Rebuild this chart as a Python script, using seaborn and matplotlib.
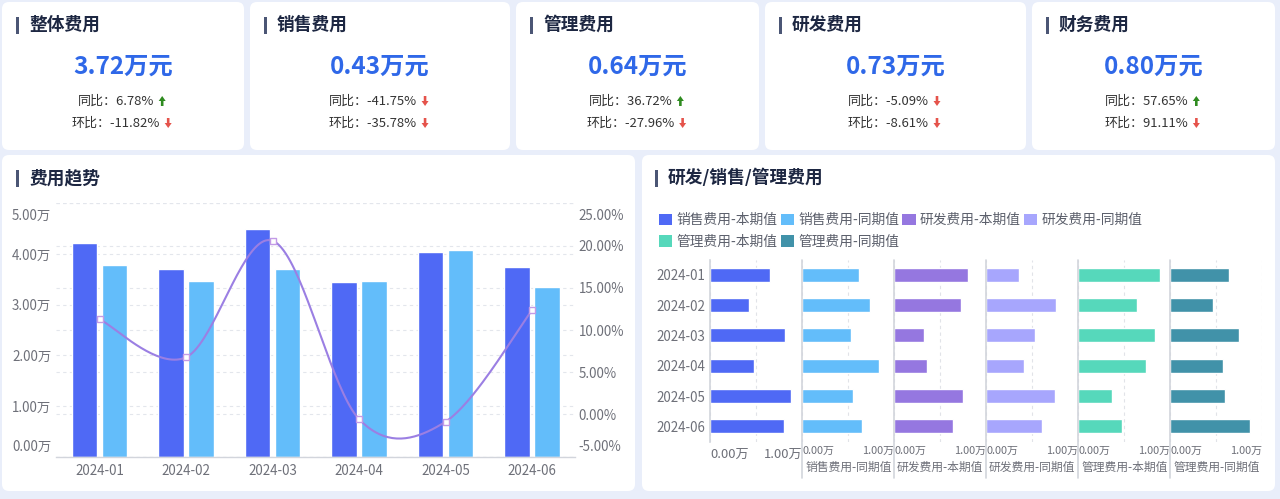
import matplotlib
matplotlib.use("Agg")
import matplotlib.pyplot as plt
import matplotlib.patches as mpatches
import matplotlib.transforms as mtransforms
from matplotlib.lines import Line2D
import seaborn as sns
import numpy as np
import pandas as pd

# ---------------- data ----------------
months = ["2024-01", "2024-02", "2024-03", "2024-04", "2024-05", "2024-06"]

# overall expense trend (万)
total_current = [4.21, 3.71, 4.49, 3.45, 4.04, 3.74]
total_last = [3.79, 3.47, 3.71, 3.47, 4.08, 3.34]
total_yoy_pct = [11.27, 6.77, 20.57, -0.54, -0.86, 12.33]
left_ticks = [0, 1, 2, 3, 4, 5]
right_ticks = [-5, 0, 5, 10, 15, 20, 25]

# KPI cards
kpi_titles = ["整体费用", "销售费用", "管理费用", "研发费用", "财务费用"]
kpi_amounts = [3.72, 0.43, 0.64, 0.73, 0.80]
kpi_yoy = [6.78, -41.75, 36.72, -5.09, 57.65]
kpi_mom = [-11.82, -35.78, -27.96, -8.61, 91.11]
kpi_yoy_up = [True, False, True, False, True]
kpi_mom_up = [False, False, False, False, False]

# small multiples (万)
panel_names = ["销售费用-本期值", "销售费用-同期值", "研发费用-本期值",
               "研发费用-同期值", "管理费用-本期值", "管理费用-同期值"]
sales_current = [0.65, 0.42, 0.81, 0.47, 0.88, 0.80]
sales_last = [0.62, 0.74, 0.53, 0.83, 0.55, 0.65]
rd_current = [0.80, 0.72, 0.32, 0.36, 0.75, 0.64]
rd_last = [0.36, 0.76, 0.53, 0.41, 0.75, 0.60]
admin_current = [0.89, 0.64, 0.83, 0.74, 0.37, 0.47]
admin_last = [0.64, 0.46, 0.75, 0.57, 0.59, 0.87]
panel_values = [sales_current, sales_last, rd_current, rd_last, admin_current, admin_last]
panel_ticks = [0, 0.5, 1.0]

# ---------------- style ----------------
C_DARK = "#4f69f5"
C_LIGHT = "#63bdfa"
panel_colors = ["#4f69f5", "#63bdfa", "#9577e0", "#a7a6fd", "#56d8bb", "#4192a9"]
C_LINE = "#9b7fe3"
C_MARK = "#c39be6"
C_BG = "#e9eefa"
C_TITLE = "#1d2742"
C_BAR = "#4b5675"
C_TICK = "#6e7079"
C_GRID = "#e3e6ec"
C_AXIS = "#d2d5dc"

sns.set_theme(style="white")
plt.rcParams["font.family"] = ["Noto Sans CJK SC", "DejaVu Sans"]
plt.rcParams["axes.unicode_minus"] = False

W, H = 1280, 499
fig = plt.figure(figsize=(W / 100, H / 100), dpi=100)
fig.patch.set_facecolor(C_BG)


def fy(y):
    return 1 - y / H


def card(x0, y0, x1, y1):
    p = mpatches.FancyBboxPatch((x0 / 100, (H - y1) / 100), (x1 - x0) / 100, (y1 - y0) / 100,
                                boxstyle="round,pad=0,rounding_size=0.07",
                                transform=fig.dpi_scale_trans, fc="white", ec="none", zorder=-5)
    fig.add_artist(p)


def title(x_bar, y_c, text, size=12.75):
    r = mpatches.Rectangle((x_bar / 100, (H - (y_c + 8.5)) / 100), 3 / 100, 17 / 100,
                           transform=fig.dpi_scale_trans, fc=C_BAR, ec="none", zorder=2)
    fig.add_artist(r)
    fig.text((x_bar + 13) / W, fy(y_c), text, fontsize=size, fontweight="bold",
             color=C_TITLE, ha="left", va="center")


def arrow(cx, cy, up, color):
    L = 10
    if up:
        y_start, dy = cy + L / 2, -L
    else:
        y_start, dy = cy - L / 2, L
    a = mpatches.FancyArrow(cx / 100, (H - y_start) / 100, 0, -dy / 100, width=2.6 / 100,
                            head_width=7 / 100, head_length=5 / 100, length_includes_head=True,
                            transform=fig.dpi_scale_trans, fc=color, ec="none", zorder=3)
    fig.add_artist(a)


# ---------------- KPI cards ----------------
top_cards = [(2, 2, 244, 150), (250, 2, 510, 150), (516, 2, 759, 150),
             (765, 2, 1026, 150), (1032, 2, 1275, 150)]
renderer = fig.canvas.get_renderer()
for i, (x0, y0, x1, y1) in enumerate(top_cards):
    card(x0, y0, x1, y1)
    title(x0 + 14, 25, kpi_titles[i])
    cx = (x0 + x1) / 2
    fig.text(cx / W, fy(67), f"{kpi_amounts[i]:.2f}万元", fontsize=17.5, fontweight="bold",
             color="#2f68e8", ha="center", va="center")
    for (lab, val, up, yy) in [("同比", kpi_yoy[i], kpi_yoy_up[i], 101),
                               ("环比", kpi_mom[i], kpi_mom_up[i], 123)]:
        t = fig.text((cx - 7) / W, fy(yy), f"{lab}：{val:.2f}%", fontsize=9.4,
                     color="#333333", ha="center", va="center")
        bb = t.get_window_extent(renderer)
        arrow(bb.x1 + 8, yy, up, "#2e8b1f" if up else "#e5534b")

# ---------------- bottom cards ----------------
card(2, 155, 635, 491)
card(642, 155, 1275, 491)
title(16, 178, "费用趋势")
title(655, 178, "研发/销售/管理费用")

# ---------------- left chart: bars + smooth yoy line ----------------
ax = fig.add_axes([56.25 / W, fy(456.7), 519 / W, 253.4 / H])
ax.set_facecolor("none")
df = pd.DataFrame({"月份": months * 2,
                   "费用": total_current + total_last,
                   "类型": ["本期值"] * len(months) + ["同期值"] * len(months)})
sns.barplot(data=df, x="月份", y="费用", hue="类型", palette=[C_DARK, C_LIGHT],
            width=0.69, gap=0.14, saturation=1, legend=False, ax=ax, zorder=2)
ax.set_xlim(-0.5, len(months) - 0.5)
ax.set_ylim(left_ticks[0], left_ticks[-1])
ax.set_yticks(left_ticks)
ax.set_yticklabels([f"{v:.2f}万" for v in left_ticks])
ax.set_xlabel("")
ax.set_ylabel("")
for s in ["top", "right", "left"]:
    ax.spines[s].set_visible(False)
ax.spines["bottom"].set_color(C_AXIS)
ax.spines["bottom"].set_linewidth(1.0)
ax.tick_params(axis="both", length=0, labelsize=9.6, labelcolor=C_TICK)
ax.tick_params(axis="x", pad=5)
ax.tick_params(axis="y", pad=3.5)
ax.grid(axis="y", color=C_GRID, ls=(0, (3, 3)), lw=0.8)
ax.grid(axis="x", visible=False)
ax.set_axisbelow(True)

ax2 = ax.twinx()
ax2.set_ylim(right_ticks[0], right_ticks[-1])
ax2.set_yticks(right_ticks)
ax2.set_yticklabels([f"{v:.2f}%" for v in right_ticks])
for s in ["top", "right", "left", "bottom"]:
    ax2.spines[s].set_visible(False)
ax2.tick_params(axis="y", length=0, labelsize=9.6, labelcolor=C_TICK, pad=2.5)
ax2.grid(False)
# right-axis gridlines drawn behind the bars
gtrans = mtransforms.blended_transform_factory(ax.transAxes, ax2.transData)
for t in right_ticks:
    ax.plot([0, 1], [t, t], transform=gtrans, color=C_GRID, ls=(0, (3, 3)), lw=0.8, zorder=0.5)

# shift extreme tick labels inward (as in reference)
for a in (ax, ax2):
    labs = a.get_yticklabels()
    labs[-1].set_transform(labs[-1].get_transform() + mtransforms.ScaledTranslation(0, -0.11, fig.dpi_scale_trans))
    labs[0].set_transform(labs[0].get_transform() + mtransforms.ScaledTranslation(0, 0.11, fig.dpi_scale_trans))


def catmull_rom(xs, ys, n=40):
    pts = np.column_stack([xs, ys]).astype(float)
    P = np.vstack([pts[0], pts, pts[-1]])
    out = []
    tt = np.linspace(0, 1, n)[:, None]
    for k in range(len(pts) - 1):
        p0, p1, p2, p3 = P[k], P[k + 1], P[k + 2], P[k + 3]
        c1 = p1 + (p2 - p0) / 6
        c2 = p2 - (p3 - p1) / 6
        seg = (1 - tt) ** 3 * p1 + 3 * (1 - tt) ** 2 * tt * c1 + 3 * (1 - tt) * tt ** 2 * c2 + tt ** 3 * p2
        out.append(seg if k == 0 else seg[1:])
    out = np.vstack(out)
    return out[:, 0], out[:, 1]


xpos = np.arange(len(months))
cxs, cys = catmull_rom(xpos, total_yoy_pct)
ax2.plot(cxs, cys, color=C_LINE, lw=1.5, zorder=3, solid_capstyle="round")
sns.scatterplot(x=xpos, y=total_yoy_pct, marker="s", s=20, color="white",
                edgecolor=C_MARK, linewidth=1.0, zorder=4, ax=ax2, legend=False)
ax2.set_ylim(right_ticks[0], right_ticks[-1])
ax2.set_xlim(-0.5, len(months) - 0.5)

# ---------------- right chart: small multiples ----------------
panel_x0 = 710.3
panel_w = 92.0
for i, (name, vals, col) in enumerate(zip(panel_names, panel_values, panel_colors)):
    left = panel_x0 + panel_w * i
    axp = fig.add_axes([left / W, fy(441.5), panel_w / W, 182 / H])
    axp.set_facecolor("none")
    sns.barplot(x=vals, y=months, orient="h", color=col, width=0.46, saturation=1, ax=axp, zorder=2)
    axp.set_xlim(panel_ticks[0], panel_ticks[-1])
    axp.set_ylim(len(months) - 0.5, -0.5)
    axp.set_xticks(panel_ticks)
    axp.set_xticklabels([f"{panel_ticks[0]:.2f}万", "", f"{panel_ticks[-1]:.2f}万"])
    xl = axp.get_xticklabels()
    xl[0].set_ha("left")
    xl[-1].set_ha("right")
    for s in ["top", "right", "bottom"]:
        axp.spines[s].set_visible(False)
    axp.grid(axis="x", color="#e1e3e8", ls=(0, (3, 3)), lw=0.8)
    axp.grid(axis="y", visible=False)
    axp.set_axisbelow(True)
    axp.set_ylabel("")
    if i == 0:
        axp.spines["left"].set_color(C_AXIS)
        axp.spines["left"].set_linewidth(1.2)
        axp.tick_params(axis="y", length=0, labelsize=9.6, labelcolor=C_TICK, pad=3.5)
        axp.tick_params(axis="x", length=0, labelsize=9.4, labelcolor=C_TICK, pad=5)
        axp.set_xlabel("")
    else:
        axp.spines["left"].set_visible(False)
        axp.tick_params(axis="y", length=0, labelleft=False)
        axp.tick_params(axis="x", length=0, labelsize=7.9, labelcolor=C_TICK, pad=3.5)
        axp.set_xlabel(name, fontsize=8.5, color=C_TICK, labelpad=3)
        fig.add_artist(Line2D([left / W, left / W], [fy(259.5), fy(478)], color=C_AXIS,
                              lw=1.2, transform=fig.transFigure, zorder=3))

# legend
handles = [mpatches.Patch(fc=c, ec="none") for c in panel_colors]
order = [0, 4, 1, 5, 2, 3]
fig.legend([handles[k] for k in order], [panel_names[k] for k in order], ncol=4,
           loc="upper left", bbox_to_anchor=(659 / W, fy(213)), frameon=False,
           fontsize=9.9, handlelength=0.98, handleheight=0.9, handletextpad=0.3,
           columnspacing=0.22, labelspacing=0.55, borderpad=0, borderaxespad=0,
           labelcolor="#5b5f6b")

fig.savefig("out.png", dpi=100, facecolor=fig.get_facecolor())
